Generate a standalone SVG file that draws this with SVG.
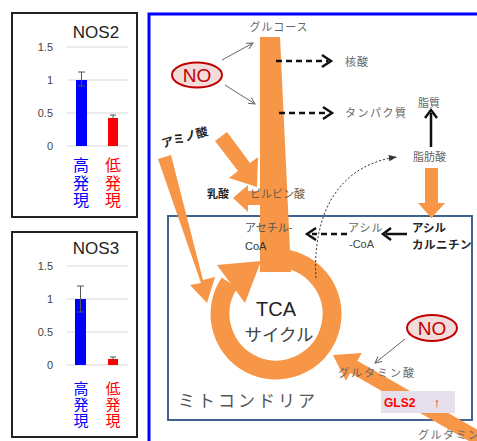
<svg xmlns="http://www.w3.org/2000/svg" width="477" height="441" viewBox="0 0 477 441">
<defs>
<style>
.sans{font-family:"Liberation Sans",Arial,sans-serif}
.jp{font-family:"Noto Sans CJK JP","Noto Sans",sans-serif}
.vt{font-family:"Noto Sans CJK JP","Noto Sans",sans-serif;writing-mode:vertical-rl;text-orientation:upright}
.ax{font-family:"Liberation Sans",Arial,sans-serif;font-size:11px;fill:#444;text-anchor:end}
.grid{stroke:#d9d9d9;stroke-width:1}
.err{stroke:#555;stroke-width:1;fill:none}
.lbl{font-family:"Noto Sans CJK JP","Noto Sans",sans-serif;font-size:11px;fill:#666}
.bold{font-family:"Noto Sans CJK JP","Noto Sans",sans-serif;font-weight:bold;fill:#222}
.org{fill:#f79646}
.thin{stroke:#666;stroke-width:1;fill:none;marker-end:url(#ga)}
.dash{stroke:#111;stroke-width:2.5;stroke-dasharray:6 4;fill:none}
.no{fill:#f2dcdb;stroke:#c00000;stroke-width:2}
.notx{font-family:"Liberation Sans",Arial,sans-serif;font-size:19px;fill:#c00000;text-anchor:middle}
</style>
<marker id="ga" viewBox="0 0 10 10" refX="9" refY="5" markerWidth="8" markerHeight="8" orient="auto" markerUnits="userSpaceOnUse"><path d="M1 1 L9 5 L1 9" fill="none" stroke="#666" stroke-width="1.2"/></marker>
<marker id="dot" viewBox="0 0 10 10" refX="9" refY="5" markerWidth="8" markerHeight="8" orient="auto" markerUnits="userSpaceOnUse"><path d="M0 1 L10 5 L0 9 Z" fill="#333"/></marker>
</defs>
<rect width="477" height="441" fill="#fff"/>

<!-- NOS2 chart -->
<g id="nos2">
<rect x="12" y="13" width="125" height="204" fill="#fff" stroke="#222" stroke-width="2"/>
<text class="sans" x="96" y="38" font-size="17" fill="#222" text-anchor="middle">NOS2</text>
<line class="grid" x1="67" y1="47" x2="128" y2="47"/>
<line class="grid" x1="67" y1="80" x2="128" y2="80"/>
<line class="grid" x1="67" y1="113" x2="128" y2="113"/>
<line class="grid" x1="67" y1="146" x2="128" y2="146"/>
<text class="ax" x="53" y="51">1.5</text>
<text class="ax" x="53" y="84">1</text>
<text class="ax" x="53" y="117">0.5</text>
<text class="ax" x="53" y="150">0</text>
<rect x="76" y="80" width="11" height="66" fill="#0000ff"/>
<rect x="108" y="118" width="10" height="28" fill="#ff0000"/>
<path class="err" d="M81.5 72 V86 M78 72 H85 M78 86 H85"/>
<path class="err" d="M113 115 V119 M110 115 H116"/>
<text class="vt" x="81" y="157" font-size="16" letter-spacing="1.5" fill="#0000ff">高発現</text>
<text class="vt" x="113" y="157" font-size="16" letter-spacing="1.5" fill="#ff0000">低発現</text>
</g>

<!-- NOS3 chart -->
<g id="nos3">
<rect x="12" y="232" width="125" height="205" fill="#fff" stroke="#222" stroke-width="2"/>
<text class="sans" x="96" y="254" font-size="17" fill="#222" text-anchor="middle">NOS3</text>
<line class="grid" x1="67" y1="266" x2="128" y2="266"/>
<line class="grid" x1="67" y1="299" x2="128" y2="299"/>
<line class="grid" x1="67" y1="332" x2="128" y2="332"/>
<line class="grid" x1="67" y1="365" x2="128" y2="365"/>
<text class="ax" x="53" y="270">1.5</text>
<text class="ax" x="53" y="303">1</text>
<text class="ax" x="53" y="336">0.5</text>
<text class="ax" x="53" y="369">0</text>
<rect x="75" y="299" width="11" height="66" fill="#0000ff"/>
<rect x="108" y="359" width="10" height="6" fill="#ff0000"/>
<path class="err" d="M80.5 286 V312 M77 286 H84 M77 312 H84"/>
<path class="err" d="M113 357 V361 M110 357 H116"/>
<text class="vt" x="81" y="381" font-size="15" letter-spacing="1" fill="#0000ff">高発現</text>
<text class="vt" x="113" y="381" font-size="15" letter-spacing="1" fill="#ff0000">低発現</text>
</g>

<!-- frames -->
<rect id="cell" x="149" y="14" width="400" height="500" fill="none" stroke="#0000ff" stroke-width="3"/>
<g id="mitochondria">
<rect x="168" y="216" width="304" height="204" fill="none" stroke="#41628f" stroke-width="2"/>
<text class="jp" x="178" y="407" font-size="17" fill="#555" letter-spacing="3">ミトコンドリア</text>
</g>

<!-- connectors -->
<g id="connectors">
<polygon class="org" points="260,37 280,37 291,272 260,272"/>
<path d="M276 258 A56 56 0 1 1 229.6 282.7" fill="none" stroke="#f79646" stroke-width="19"/>
<polygon class="org" points="217,265 245,303 261,261"/>
<polygon class="org" points="215,141 227,132 250,163 258,157 257,187 229,178 238,171"/>
<polygon class="org" points="260,191 248,191 248,185 233,198 248,212 248,205 260,205"/>
<polygon class="org" points="158,159 171,155 203,280 215,277 207,303 190,285 201,283"/>
<polygon class="org" points="333,355 361.8,353 357.3,360.8 492.7,438.4 485.7,450.6 350.3,373 345.8,380.8"/>
<polygon class="org" points="425,168 438,168 438,203 445,203 431.5,218 418,203 425,203"/>
<line class="thin" x1="222" y1="60" x2="253" y2="43"/>
<line class="thin" x1="225" y1="85" x2="255" y2="104"/>
<line class="thin" x1="405" y1="339" x2="375" y2="363"/>
<line class="dash" x1="276" y1="61" x2="328" y2="61"/>
<path d="M322 55 L331 61 L322 67" fill="none" stroke="#111" stroke-width="2.5"/>
<line class="dash" x1="279" y1="113" x2="329" y2="113"/>
<path d="M323 107 L332 113 L323 119" fill="none" stroke="#111" stroke-width="2.5"/>
<line class="dash" x1="347" y1="234" x2="312" y2="234"/>
<path d="M316 228 L307 234 L316 240" fill="none" stroke="#111" stroke-width="2.5"/>
<line x1="407" y1="234" x2="386" y2="234" stroke="#111" stroke-width="2.5"/>
<path d="M391 228 L383 234 L391 240" fill="none" stroke="#111" stroke-width="2.5"/>
<line x1="431" y1="147" x2="431" y2="113" stroke="#111" stroke-width="2.5"/>
<path d="M425 118 L431 110 L437 118" fill="none" stroke="#111" stroke-width="2.5"/>
<path d="M316 278 C313 232 326 168 396 157" fill="none" stroke="#333" stroke-width="1" stroke-dasharray="2 2" marker-end="url(#dot)"/>
</g>

<!-- nodes / labels -->
<g id="glucose"><text class="lbl" x="279" y="31" text-anchor="middle" letter-spacing="1">グルコース</text></g>
<g id="no1"><ellipse class="no" cx="197" cy="75" rx="25" ry="12.5"/><text class="notx" x="197" y="82">NO</text></g>
<g id="nucleic"><text class="lbl" x="345" y="66" letter-spacing="1">核酸</text></g>
<g id="protein"><text class="lbl" x="345" y="117" letter-spacing="1.5">タンパク質</text></g>
<g id="lipid"><text class="lbl" x="418" y="107" font-size="12">脂質</text></g>
<g id="fattyacid"><text class="lbl" x="413" y="161" font-size="12">脂肪酸</text></g>
<g id="aminoacid"><text class="bold" x="163" y="148" font-size="12" transform="rotate(-16 163 148)">アミノ酸</text></g>
<g id="lactate"><text class="bold" x="207" y="198" font-size="11">乳酸</text></g>
<g id="pyruvate"><text class="lbl" x="250" y="198" font-size="12" style="fill:#6b5a45">ピルビン酸</text></g>
<g id="acetylcoa"><text class="lbl" x="245" y="232" style="fill:#555">アセチル-</text><text class="sans" x="245" y="250" font-size="11" fill="#333">CoA</text></g>
<g id="acylcoa"><text class="lbl" x="348" y="232" letter-spacing="1">アシル</text><text class="sans" x="349" y="248" font-size="11" fill="#444">-CoA</text></g>
<g id="acylcarnitine"><text class="bold" x="412" y="232" font-size="11.5">アシル</text><text class="bold" x="412" y="249" font-size="11.5" letter-spacing="0.5">カルニチン</text></g>
<g id="tca"><text class="sans" x="276" y="316" font-size="20" fill="#222" text-anchor="middle">TCA</text><text class="jp" x="279" y="341" font-size="17.5" fill="#444" text-anchor="middle">サイクル</text></g>
<g id="no2"><ellipse class="no" cx="432" cy="328" rx="25" ry="13"/><text class="notx" x="432" y="335">NO</text></g>
<g id="glutamate"><text class="lbl" x="338" y="377" letter-spacing="2">グルタミン酸</text></g>
<g id="gls2"><rect x="381" y="391" width="74" height="22" fill="#e6e0ec"/><text class="sans" x="384" y="407" font-size="12" font-weight="bold" fill="#ff0000">GLS2</text><text class="sans" x="437" y="407" font-size="13" fill="#ff0000" text-anchor="middle">↑</text></g>
<g id="glutamine"><text class="lbl" x="418" y="439" letter-spacing="1.5">グルタミン</text></g>
</svg>
